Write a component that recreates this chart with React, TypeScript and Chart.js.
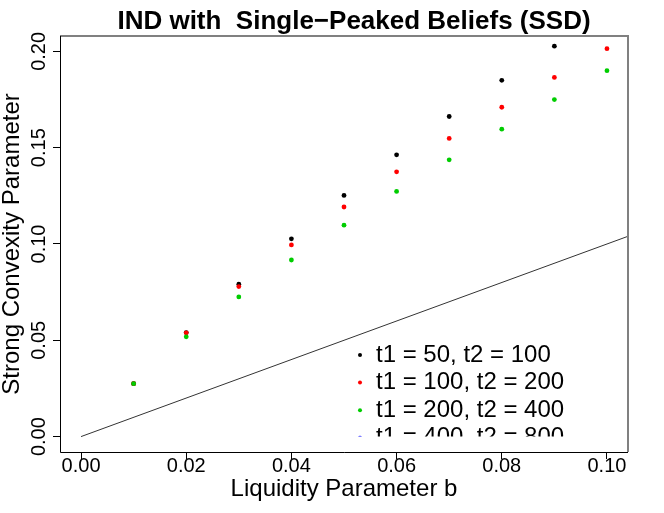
import React, { useEffect, useRef } from 'react';
import Chart from 'chart.js/auto';

const bValues = [0.01, 0.02, 0.03, 0.04, 0.05, 0.06, 0.07, 0.08, 0.09, 0.1];
const seriesA = [0.0275, 0.054, 0.0791, 0.1027, 0.1252, 0.1463, 0.1662, 0.185, 0.2027, null];
const seriesB = [0.0275, 0.0539, 0.0779, 0.0995, 0.1192, 0.1375, 0.1548, 0.171, 0.1865, 0.2014];
const seriesC = [0.0275, 0.0518, 0.0725, 0.0917, 0.1098, 0.1273, 0.1437, 0.1596, 0.175, 0.19];
const legendLabels = ['t1 = 50, t2 = 100', 't1 = 100, t2 = 200', 't1 = 200, t2 = 400', 't1 = 400, t2 = 800'];
const legendColors = ['#000000', '#ff0000', '#00cd00', '#0000ff'];
const refLine = [0, 0.12];
const xTicks = [0, 0.02, 0.04, 0.06, 0.08, 0.1];
const yTicks = [0, 0.05, 0.1, 0.15, 0.2];

const FONT = '"Liberation Sans", Arial, Helvetica, sans-serif';

const pts = (ys: (number | null)[]) =>
  bValues.map((x, i) => ({ x, y: ys[i] })).filter((p) => p.y !== null);

const extras = {
  id: 'extras',
  afterDraw(chart: any) {
    const { ctx, chartArea: a, scales } = chart;
    ctx.save();

    // title
    ctx.fillStyle = '#000';
    ctx.font = `bold 26px ${FONT}`;
    ctx.textAlign = 'center';
    ctx.textBaseline = 'middle';
    ctx.fillText('IND with  Single\u2212Peaked Beliefs (SSD)', 354, 22);

    // y tick labels, rotated like R
    ctx.font = `20px ${FONT}`;
    yTicks.forEach((v) => {
      const y = scales.y.getPixelForValue(v);
      ctx.save();
      ctx.translate(39, y);
      ctx.rotate(-Math.PI / 2);
      ctx.fillText(v.toFixed(2), 0, 0);
      ctx.restore();
    });

    // legend (clipped)
    const clipBottom = scales.y.getPixelForValue(0);
    ctx.save();
    ctx.beginPath();
    ctx.rect(a.left, a.top, a.right - a.left, clipBottom - a.top);
    ctx.clip();
    ctx.font = `24px ${FONT}`;
    ctx.textAlign = 'left';
    legendLabels.forEach((lab, i) => {
      const y = 355 + i * 27.6;
      ctx.fillStyle = legendColors[i];
      ctx.beginPath();
      ctx.arc(360, y, 2, 0, Math.PI * 2);
      ctx.fill();
      ctx.fillStyle = '#000';
      ctx.fillText(lab, 376, y);
    });
    ctx.restore();

    // frame
    ctx.strokeStyle = '#808080';
    ctx.lineWidth = 2;
    ctx.beginPath();
    ctx.moveTo(a.left, a.top);
    ctx.lineTo(a.right, a.top);
    ctx.lineTo(a.right, a.bottom);
    ctx.stroke();
    ctx.strokeStyle = '#000';
    ctx.lineWidth = 1;
    ctx.beginPath();
    ctx.moveTo(a.left + 0.5, a.top);
    ctx.lineTo(a.left + 0.5, a.bottom + 0.5);
    ctx.lineTo(a.right, a.bottom + 0.5);
    ctx.stroke();
    ctx.restore();
  },
};

const App = () => {
  const canvasRef = useRef<HTMLCanvasElement>(null);

  useEffect(() => {
    if (!canvasRef.current) return;
    const chart = new Chart(canvasRef.current, {
      type: 'scatter',
      data: {
        datasets: [
          {
            type: 'line',
            data: refLine.map((v) => ({ x: v, y: v })),
            borderColor: '#333',
            borderWidth: 1,
            pointRadius: 0,
            fill: false,
            order: 4,
          },
          { data: pts(seriesA), backgroundColor: legendColors[0], pointRadius: 2.4, borderWidth: 0, order: 3 },
          { data: pts(seriesB), backgroundColor: legendColors[1], pointRadius: 2.4, borderWidth: 0, order: 2 },
          { data: pts(seriesC), backgroundColor: legendColors[2], pointRadius: 2.4, borderWidth: 0, order: 1 },
        ] as any,
      },
      options: {
        animation: false,
        responsive: false,
        devicePixelRatio: 1,
        layout: { padding: { left: 0, top: 36, right: 36, bottom: 0 } },
        plugins: { legend: { display: false }, tooltip: { enabled: false }, title: { display: false } },
        scales: {
          x: {
            type: 'linear',
            min: -0.004,
            max: 0.104,
            afterBuildTicks: (s: any) => {
              s.ticks = xTicks.map((value) => ({ value }));
            },
            afterFit: (s: any) => {
              s.height = 61;
            },
            border: { display: false },
            grid: { drawOnChartArea: false, tickLength: 7, color: '#000', lineWidth: 1 },
            ticks: {
              color: '#000',
              padding: -3,
              maxRotation: 0,
              font: { family: FONT, size: 20, lineHeight: 1 },
              callback: (v: any) => Number(v).toFixed(2),
            },
            title: {
              display: true,
              text: 'Liquidity Parameter b',
              color: '#000',
              font: { family: FONT, size: 24, lineHeight: 1.2 },
              padding: { top: 0, bottom: 9 },
            },
          },
          y: {
            type: 'linear',
            min: -0.008,
            max: 0.208,
            afterBuildTicks: (s: any) => {
              s.ticks = yTicks.map((value) => ({ value }));
            },
            afterFit: (s: any) => {
              s.width = 60;
            },
            border: { display: false },
            grid: { drawOnChartArea: false, tickLength: 7, color: '#000', lineWidth: 1 },
            ticks: { display: false },
            title: {
              display: true,
              text: 'Strong Convexity Parameter',
              color: '#000',
              font: { family: FONT, size: 24, lineHeight: 1 },
              padding: 0,
            },
          },
        },
      },
      plugins: [extras],
    });
    return () => {
      chart.destroy();
    };
  }, []);

  return (
    <div style={{ position: 'absolute', left: 0, top: 0, width: 664, height: 513, background: '#fff' }}>
      <canvas ref={canvasRef} width={664} height={513} />
    </div>
  );
};

export default App;
